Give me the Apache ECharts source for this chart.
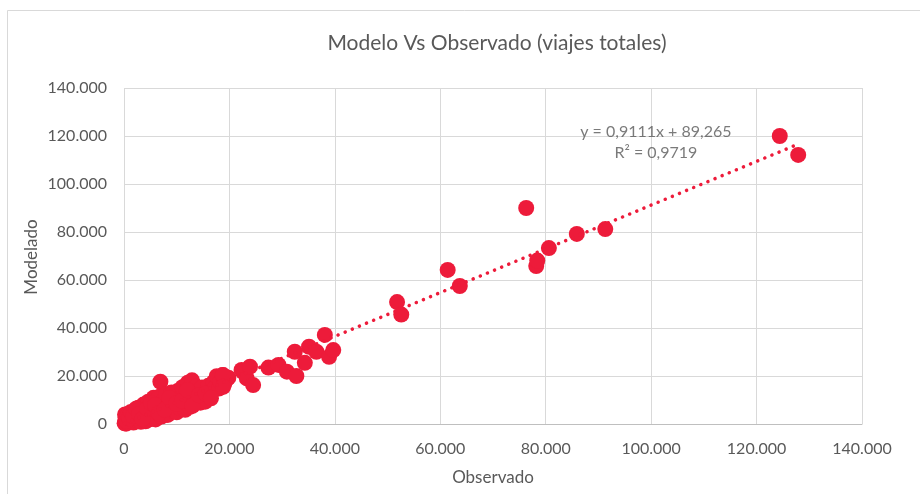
<!DOCTYPE html>
<html>
<head>
<meta charset="utf-8">
<script src="https://cdn.jsdelivr.net/npm/echarts@6/dist/echarts.min.js"></script>
<style>
  html, body { margin: 0; padding: 0; background: #fff; }
  #chart { width: 920px; height: 494px; }
</style>
</head>
<body>
<div id="chart"></div>
<script>
// Observed vs modelled total trips per zone
const observado = [
  120, 250, 400, 600, 800, 300, 900, 1100, 1400, 1500, 200, 1800, 2000, 2200, 2500, 2700,
  3000, 3200, 3400, 3700, 3900, 4100, 4300, 4600, 4800, 5000, 5300, 5600, 5800, 6000, 6200,
  6400, 6700, 6900, 7100, 7300, 7500, 7800, 8000, 8300, 8500, 8800, 9000, 9200, 9500, 9700,
  10000, 10200, 10400, 10600, 10900, 11100, 11300, 11600, 11800, 12100, 12300, 12500, 12700,
  12900, 13200, 13400, 13700, 14000, 14300, 14500, 14800, 15100, 15400, 15700, 16000, 16300,
  16700, 17000, 17300, 17600, 18000, 18300, 18700, 19000, 19400, 19800,
  500, 700, 1000, 1300, 1700, 2300, 2900, 3500, 4400, 5100, 5900, 6600, 7700, 8600, 9900,
  11000, 12000, 13000, 14200, 15500, 16500,
  18800, 18800, 22300, 23300, 23900, 24500, 27400, 29300, 30900, 32700, 32400, 34300, 35100,
  36500, 38100, 38900, 39700, 51800, 52600, 61400, 63700, 76300, 78200, 78400, 80600, 85900,
  91300, 124400, 127900
];
const modelado = [
  300, 900, 150, 1800, 600, 2500, 3200, 1200, 2100, 4300, 4000, 600, 3000, 5600, 1500, 6800,
  2600, 900, 4700, 8100, 6200, 1100, 3400, 9300, 5200, 2000, 7300, 10900, 3600, 1900, 5500,
  8600, 11400, 17600, 3100, 6900, 9800, 4700, 12400, 3800, 8000, 10600, 13100, 5600, 7200, 11700,
  4900, 13800, 9200, 6600, 11300, 15300, 8100, 5900, 12800, 17200, 10100, 7200, 14700,
  18200, 11900, 8600, 15600, 10200, 13100, 8900, 15200, 11600, 9300, 13600, 15900, 11800,
  13400, 17400, 15200, 19900, 14800, 17600, 20400, 16600, 18500, 19300,
  1200, 3700, 2400, 5000, 3300, 6400, 4200, 2100, 6500, 8800, 7800, 4400, 6000, 10800, 8500,
  9700, 14100, 7600, 12000, 12600, 10700,
  20400, 15500, 22500, 19000, 23900, 16200, 23500, 24600, 21800, 20000, 30100, 25500, 32200,
  30100, 37100, 28000, 30800, 50800, 45600, 64200, 57500, 90000, 65800, 68100, 73300, 79200,
  81200, 120000, 112100
];

// Linear trendline reported for the series
const pendiente = 0.9111;
const intercepto = 89.265;
const r2 = 0.9719;

// Axis ticks
const ejeX = [0, 20000, 40000, 60000, 80000, 100000, 120000, 140000];
const ejeY = [0, 20000, 40000, 60000, 80000, 100000, 120000, 140000];

const puntos = observado.map((x, i) => [x, modelado[i]]);
const xMin = Math.min(...observado);
const xMax = Math.max(...observado);
const tendencia = [
  [xMin, pendiente * xMin + intercepto],
  [xMax, pendiente * xMax + intercepto]
];

const fmt = v => v === 0 ? '0' : String(v).replace(/\B(?=(\d{3})+(?!\d))/g, '.');
const fmtDec = (v, d) => v.toFixed(d).replace('.', ',');

const FONT = 'Lato';
const GRIS = '#595959';
const ROJO = '#ed1b3a';

const chart = echarts.init(document.getElementById('chart'), null, { renderer: 'canvas' });
chart.setOption({
  animation: false,
  backgroundColor: '#fff',
  title: {
    text: 'Modelo Vs Observado (viajes totales)',
    left: 492, top: 28, textAlign: 'center',
    textStyle: { fontFamily: FONT, fontSize: 21, fontWeight: 'normal', color: GRIS }
  },
  grid: { left: 124, right: 58, top: 88, bottom: 70, containLabel: false },
  xAxis: {
    type: 'value',
    min: ejeX[0], max: ejeX[ejeX.length - 1], interval: ejeX[1] - ejeX[0],
    axisLine: { show: true, lineStyle: { color: '#bfbfbf', width: 1 } },
    axisTick: { show: false },
    splitLine: { show: true, lineStyle: { color: '#d9d9d9', width: 1 } },
    axisLabel: { formatter: fmt, color: GRIS, fontFamily: FONT, fontSize: 16, margin: 17 }
  },
  yAxis: {
    type: 'value',
    min: ejeY[0], max: ejeY[ejeY.length - 1], interval: ejeY[1] - ejeY[0],
    axisLine: { show: false },
    axisTick: { show: false },
    splitLine: { show: true, lineStyle: { color: '#d9d9d9', width: 1 } },
    axisLabel: { formatter: fmt, color: GRIS, fontFamily: FONT, fontSize: 16, margin: 17 }
  },
  graphic: [
    {
      type: 'rect', silent: true,
      shape: { x: 7.5, y: 10.5, width: 1000, height: 1000 },
      style: { fill: 'none', stroke: '#d9d9d9', lineWidth: 1 }
    },
    {
      type: 'text', silent: true, x: 493, y: 478,
      style: { text: 'Observado', fill: GRIS, font: '17px ' + FONT, align: 'center', verticalAlign: 'middle' }
    },
    {
      type: 'text', silent: true, x: 32, y: 257, rotation: Math.PI / 2,
      style: { text: 'Modelado', fill: GRIS, font: '17px ' + FONT, align: 'center', verticalAlign: 'middle' }
    }
  ],
  series: [
    {
      type: 'scatter',
      data: puntos,
      symbol: 'circle',
      symbolSize: 16,
      itemStyle: { color: ROJO, opacity: 1 },
      z: 2
    },
    {
      type: 'line',
      data: tendencia,
      symbol: 'none',
      lineStyle: { color: ROJO, width: 3.5, type: [0.1, 7.6], cap: 'round' },
      z: 3
    },
    {
      type: 'scatter',
      data: [[100900, 117300]],
      symbolSize: 0,
      silent: true,
      label: {
        show: true,
        position: 'inside',
        formatter: 'y = ' + fmtDec(pendiente, 4) + 'x + ' + fmtDec(intercepto, 3) + '\nR² = ' + fmtDec(r2, 4),
        color: GRIS, fontFamily: FONT, fontSize: 16, lineHeight: 21, align: 'center'
      },
      z: 4
    }
  ]
});
</script>
</body>
</html>
